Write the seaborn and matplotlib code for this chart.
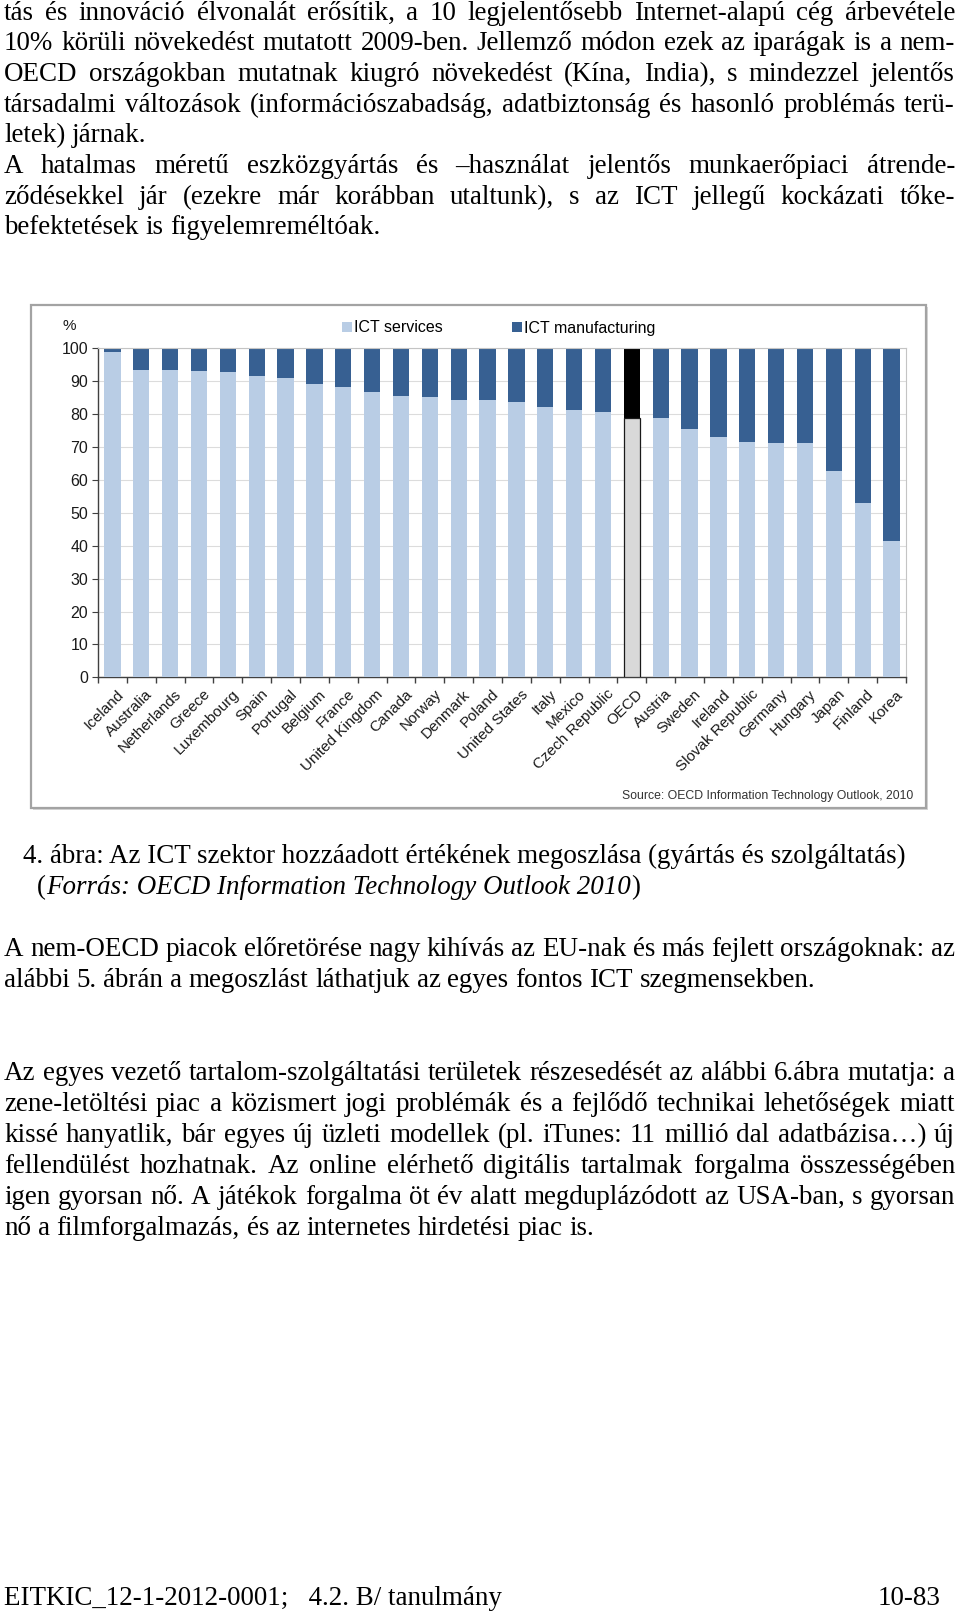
import numpy as np
import pandas as pd
import matplotlib
matplotlib.use("Agg")
import matplotlib.pyplot as plt
import seaborn as sns
from matplotlib.patches import Rectangle, Patch
import matplotlib.transforms as mtransforms

# ---------------- data ----------------
countries = ["Iceland", "Australia", "Netherlands", "Greece", "Luxembourg", "Spain",
             "Portugal", "Belgium", "France", "United Kingdom", "Canada", "Norway",
             "Denmark", "Poland", "United States", "Italy", "Mexico", "Czech Republic",
             "OECD", "Austria", "Sweden", "Ireland", "Slovak Republic", "Germany",
             "Hungary", "Japan", "Finland", "Korea"]
ict_services = [99.0, 93.4, 93.4, 93.1, 92.7, 91.6, 91.1, 89.2, 88.1, 86.8, 85.6, 85.3,
                84.3, 84.3, 83.6, 82.3, 81.3, 80.5, 78.7, 78.7, 75.4, 73.1, 71.6, 71.1,
                71.1, 62.7, 52.9, 41.3]
ict_manufacturing = [1.0, 6.6, 6.6, 6.9, 7.3, 8.4, 8.9, 10.8, 11.9, 13.2, 14.4, 14.7,
                     15.7, 15.7, 16.4, 17.7, 18.7, 19.5, 21.3, 21.3, 24.6, 26.9, 28.4, 28.9,
                     28.9, 37.3, 47.1, 58.7]
y_ticks = [0, 10, 20, 30, 40, 50, 60, 70, 80, 90, 100]
legend_labels = ["ICT services", "ICT manufacturing"]
source_text = "Source: OECD Information Technology Outlook, 2010"

para1 = ["tás és innováció élvonalát erősítik, a 10 legjelentősebb Internet-alapú cég árbevétele",
         "10% körüli növekedést mutatott 2009-ben. Jellemző módon ezek az iparágak is a nem-",
         "OECD országokban mutatnak kiugró növekedést (Kína, India), s mindezzel jelentős",
         "társadalmi változások (információszabadság, adatbiztonság és hasonló problémás terü-",
         "letek) járnak."]
para2 = ["A hatalmas méretű eszközgyártás és –használat jelentős munkaerőpiaci átrende-",
         "ződésekkel jár (ezekre már korábban utaltunk), s az ICT jellegű kockázati tőke-",
         "befektetések is figyelemreméltóak."]
caption1 = "4. ábra: Az ICT szektor hozzáadott értékének megoszlása (gyártás és szolgáltatás)"
caption2 = "Forrás: OECD Information Technology Outlook 2010"
para3 = ["A nem-OECD piacok előretörése nagy kihívás az EU-nak és más fejlett országoknak: az",
         "alábbi 5. ábrán a megoszlást láthatjuk az egyes fontos ICT szegmensekben."]
para4 = ["Az egyes vezető tartalom-szolgáltatási területek részesedését az alábbi 6.ábra mutatja: a",
         "zene-letöltési piac a közismert jogi problémák és a fejlődő technikai lehetőségek miatt",
         "kissé hanyatlik, bár egyes új üzleti modellek (pl. iTunes: 11 millió dal adatbázisa…) új",
         "fellendülést hozhatnak. Az online elérhető digitális tartalmak forgalma összességében",
         "igen gyorsan nő. A játékok forgalma öt év alatt megduplázódott az USA-ban, s gyorsan",
         "nő a filmforgalmazás, és az internetes hirdetési piac is."]
footer_left = "EITKIC_12-1-2012-0001;   4.2. B/ tanulmány"
footer_right = "10-83"

# ---------------- figure ----------------
W, H = 960, 1614
plt.rcParams["font.family"] = ["Liberation Sans", "DejaVu Sans"]
fig = plt.figure(figsize=(W / 100, H / 100), dpi=100, facecolor="white")
renderer = fig.canvas.get_renderer()

SERIF = ["Liberation Serif", "DejaVu Serif"]


def fx(px):
    return px / W


def fy(py):
    return 1 - py / H


def tw(s, size, style="normal"):
    t = fig.text(0, 0, s, fontsize=size, family=SERIF, style=style)
    w = t.get_window_extent(renderer).width
    t.remove()
    return w


# font size chosen so that the caption spans its width in the page
FS = 14 * 888 / tw(caption1, 14)
SPACE = tw("a a", FS) - tw("aa", FS)


def place_line(line, base, x0=4, x1=955, justify=True):
    words = line.split(" ")
    widths = [tw(w, FS) for w in words]
    if justify and len(words) > 1:
        gap = (x1 - x0 - sum(widths)) / (len(words) - 1)
    else:
        gap = SPACE
    x = x0
    for w, wd in zip(words, widths):
        fig.text(fx(x), fy(base), w, fontsize=FS, family=SERIF, va="baseline",
                 ha="left", color="black")
        x += wd + gap


def place_para(lines, bases):
    for i, (ln, b) in enumerate(zip(lines, bases)):
        place_line(ln, b, justify=(i < len(lines) - 1))


place_para(para1, [19.5, 50.2, 81, 111.8, 142.4])
place_para(para2, [173, 203.8, 234.4])

# caption
fig.text(fx(23), fy(863), caption1, fontsize=FS, family=SERIF, va="baseline")
x = 37
fig.text(fx(x), fy(894), "(", fontsize=FS, family=SERIF, va="baseline")
x += tw("(", FS)
fig.text(fx(x), fy(894), caption2, fontsize=FS, family=SERIF, style="italic", va="baseline")
x += tw(caption2, FS, "italic")
fig.text(fx(x), fy(894), ")", fontsize=FS, family=SERIF, va="baseline")

place_para(para3, [956, 987])
place_para(para4, [1080, 1111, 1142, 1173, 1204, 1235])

fig.text(fx(4), fy(1605), footer_left, fontsize=FS, family=SERIF, va="baseline")
fig.text(fx(940), fy(1605), footer_right, fontsize=FS, family=SERIF, va="baseline", ha="right")

# ---------------- chart frame ----------------
fig.patches.append(Rectangle((fx(33), fy(810)), fx(926 - 31), (808 - 305) / H,
                             transform=fig.transFigure, facecolor="#d6d6d6",
                             edgecolor="none", zorder=-2))
fig.patches.append(Rectangle((fx(31), fy(808)), fx(926 - 31), (808 - 305) / H,
                             transform=fig.transFigure, facecolor="white",
                             edgecolor="#a3a3a3", lw=1.6, zorder=-1))

ax = fig.add_axes([fx(98), fy(677.3), fx(906 - 98), (677.3 - 348.3) / H])
ax.set_zorder(2)
ax.set_facecolor("white")

LIGHT, DARK = "#b9cde5", "#376092"
totals = [s + m for s, m in zip(ict_services, ict_manufacturing)]
df = pd.DataFrame({"country": countries, "services": ict_services, "total": totals})
pal_top = {c: ("#000000" if c == "OECD" else DARK) for c in countries}
pal_bot = {c: ("#d9d9d9" if c == "OECD" else LIGHT) for c in countries}

sns.barplot(data=df, x="country", y="total", hue="country", palette=pal_top,
            legend=False, width=0.56, saturation=1, ax=ax, zorder=2)
sns.barplot(data=df, x="country", y="services", hue="country", palette=pal_bot,
            legend=False, width=0.56, saturation=1, ax=ax, zorder=3)
oecd_i = countries.index("OECD")
for p in ax.patches:
    cx = p.get_x() + p.get_width() / 2
    if abs(cx - oecd_i) < 0.1 and p.get_facecolor()[0] > 0.5:
        p.set_edgecolor("#1a1a1a")
        p.set_linewidth(0.9)

ax.set_xlim(-0.5, len(countries) - 0.5)
ax.set_ylim(0, 100)
ax.set_yticks(y_ticks)
ax.set_yticklabels([str(v) for v in y_ticks], fontsize=11.5, color="#1a1a1a")
ax.yaxis.grid(True, color="#dcdcdc", lw=0.8, zorder=0)
ax.set_axisbelow(True)
ax.set_xlabel("")
ax.set_ylabel("")

ax.set_xticks(range(len(countries)))
ax.set_xticklabels(countries, rotation=45, ha="right", rotation_mode="anchor",
                   fontsize=11, color="#1a1a1a")
ax.set_xticks(np.arange(-0.5, len(countries)), minor=True)
ax.tick_params(axis="x", which="major", length=0, pad=7)
ax.tick_params(axis="x", which="minor", length=4, width=1, color="#404040", direction="out")
ax.tick_params(axis="y", which="major", length=4, width=0.8, color="#404040", pad=3)
offset = mtransforms.ScaledTranslation(4 / 100, 0, fig.dpi_scale_trans)
for lab in ax.get_xticklabels():
    lab.set_transform(lab.get_transform() + offset)

for s in ["left", "bottom"]:
    ax.spines[s].set_color("#404040")
    ax.spines[s].set_linewidth(1.0)
for s in ["top", "right"]:
    ax.spines[s].set_color("#c4c4c4")
    ax.spines[s].set_linewidth(0.8)

fig.text(fx(69), fy(326), "%", fontsize=11, ha="center", va="center", color="#1a1a1a")

h1 = [Patch(facecolor=LIGHT, edgecolor="none")]
h2 = [Patch(facecolor=DARK, edgecolor="none")]
for h, lab, xpos in [(h1, legend_labels[0], 342), (h2, legend_labels[1], 512)]:
    fig.legend(h, [lab], loc="center left", bbox_to_anchor=(fx(xpos), fy(328)),
               frameon=False, fontsize=11.5, handlelength=0.6, handleheight=0.6,
               handletextpad=0.15, borderpad=0, borderaxespad=0)

fig.text(fx(913), fy(796), source_text, fontsize=8.8, ha="right", va="center", color="#333333")

fig.savefig("out.png", dpi=100, facecolor="white")
